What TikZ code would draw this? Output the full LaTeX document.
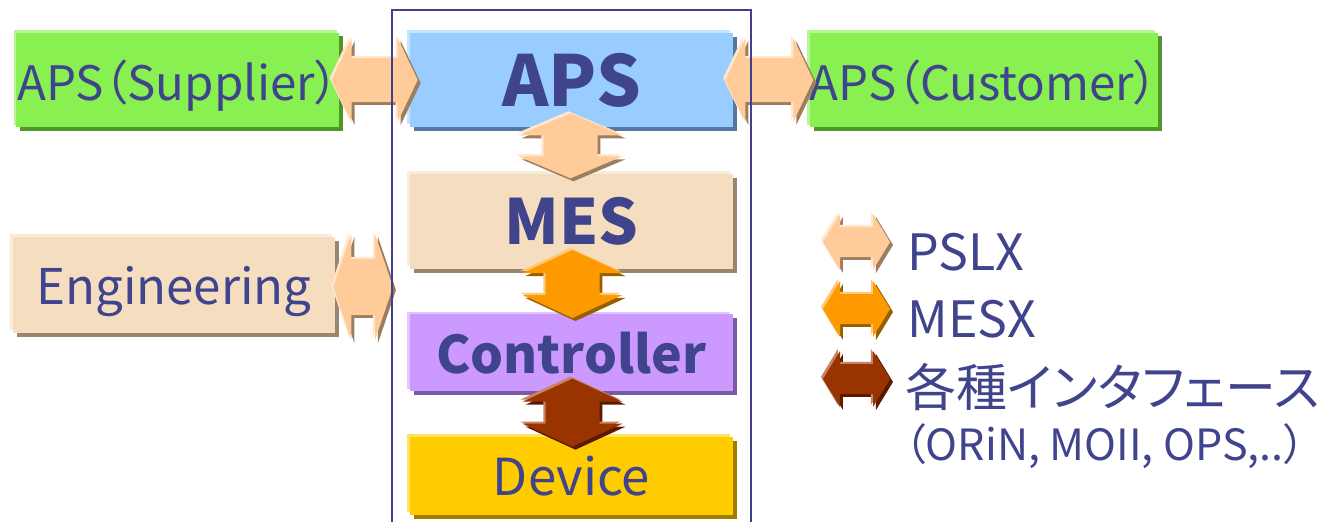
\documentclass[tikz,border=0pt]{standalone}
\usepackage{fontspec}
\setmainfont{Noto Sans CJK JP}[RawFeature=+palt]
\usetikzlibrary{calc, shadows, positioning}
\definecolor{my_text}{RGB}{64, 68, 140}
\definecolor{my_frame}{RGB}{64, 64, 140}
\definecolor{my_green}{RGB}{136, 240, 80}
\definecolor{my_greenhl}{RGB}{185, 245, 150}
\definecolor{my_greensh}{RGB}{80, 150, 40}
\definecolor{my_blue}{RGB}{153, 204, 255}
\definecolor{my_bluehl}{RGB}{195, 228, 255}
\definecolor{my_bluesh}{RGB}{85, 120, 160}
\definecolor{my_wheat}{RGB}{245, 222, 192}
\definecolor{my_wheathl}{RGB}{250, 236, 218}
\definecolor{my_wheatsh}{RGB}{150, 135, 110}
\definecolor{my_purple}{RGB}{204, 153, 255}
\definecolor{my_purplehl}{RGB}{226, 198, 255}
\definecolor{my_purplesh}{RGB}{120, 90, 165}
\definecolor{my_yellow}{RGB}{255, 204, 0}
\definecolor{my_yellowhl}{RGB}{255, 226, 100}
\definecolor{my_yellowsh}{RGB}{160, 125, 0}
\definecolor{my_pslx}{RGB}{255, 204, 153}
\definecolor{my_pslxhl}{RGB}{255, 230, 205}
\definecolor{my_pslxsh}{RGB}{155, 125, 95}
\definecolor{my_mesx}{RGB}{255, 153, 0}
\definecolor{my_mesxhl}{RGB}{255, 200, 120}
\definecolor{my_mesxsh}{RGB}{150, 95, 0}
\definecolor{my_ifc}{RGB}{153, 51, 0}
\definecolor{my_ifchl}{RGB}{200, 130, 100}
\definecolor{my_ifcsh}{RGB}{90, 25, 0}
\newdimen\pxu
\pxu=0.02cm
\tikzset {
  box/.style n args = {3}{rectangle, inner sep=0pt, text depth=0pt, fill=#1, text=my_text,
    general shadow={fill=#2, shadow xshift=2.2pt, shadow yshift=-2.2pt},
    general shadow={fill=#3, shadow xshift=-1.6pt, shadow yshift=1.6pt}},
  link/.style n args = {3}{fill=#1,
    general shadow={fill=#2, shadow xshift=1.7pt, shadow yshift=-1.7pt},
    general shadow={fill=#3, shadow xshift=-1.2pt, shadow yshift=1.2pt}},
  pslx/.style = {link={my_pslx}{my_pslxsh}{my_pslxhl}},
  mesx/.style = {link={my_mesx}{my_mesxsh}{my_mesxhl}},
  ifc/.style = {link={my_ifc}{my_ifcsh}{my_ifchl}},
  frame/.style = {draw=my_frame, line width=1.1pt},
  legend/.style = {anchor=base west, inner sep=0pt, text=my_text},
}
% \harrow{style}{from}{to}{head half width}{body half width}{head length}, sizes in px
\newcommand{\harrow}[6]{%
  \path[#1] let \p1=(#2), \p2=(#3) in
    (\x1,\y1) -- ({\x1+#6*\pxu},{\y1+#4*\pxu}) -- ({\x1+#6*\pxu},{\y1+#5*\pxu})
    -- ({\x2-#6*\pxu},{\y1+#5*\pxu}) -- ({\x2-#6*\pxu},{\y1+#4*\pxu}) -- (\x2,\y1)
    -- ({\x2-#6*\pxu},{\y1-#4*\pxu}) -- ({\x2-#6*\pxu},{\y1-#5*\pxu})
    -- ({\x1+#6*\pxu},{\y1-#5*\pxu}) -- ({\x1+#6*\pxu},{\y1-#4*\pxu}) -- cycle;}
% \varrow: same, top to bottom
\newcommand{\varrow}[6]{%
  \path[#1] let \p1=(#2), \p2=(#3) in
    (\x1,\y1) -- ({\x1+#4*\pxu},{\y1-#6*\pxu}) -- ({\x1+#5*\pxu},{\y1-#6*\pxu})
    -- ({\x1+#5*\pxu},{\y2+#6*\pxu}) -- ({\x1+#4*\pxu},{\y2+#6*\pxu}) -- (\x1,\y2)
    -- ({\x1-#4*\pxu},{\y2+#6*\pxu}) -- ({\x1-#5*\pxu},{\y2+#6*\pxu})
    -- ({\x1-#5*\pxu},{\y1-#6*\pxu}) -- ({\x1-#4*\pxu},{\y1-#6*\pxu}) -- cycle;}

\begin{document}
\begin{tikzpicture}[x=0.02cm, y=-0.02cm]
    \useasboundingbox (0,0) rectangle (1336,521);
    \clip (0,0) rectangle (1336,521);

    \node[box={my_blue}{my_bluesh}{my_bluehl}, minimum width=6.46cm, minimum height=1.88cm,
      font=\fontsize{40}{40}\selectfont\bfseries] (aps) at (571.5,80) {APS};
    \node[box={my_green}{my_greensh}{my_greenhl}, minimum width=6.46cm, minimum height=1.9cm,
      font=\fontsize{27}{28}\selectfont, left=1.4cm of aps] (sup) {APS（Supplier）};
    \node[box={my_green}{my_greensh}{my_greenhl}, minimum width=6.88cm, minimum height=1.9cm,
      font=\fontsize{27}{28}\selectfont, right=1.52cm of aps] (cus) {APS（Customer）};
    \node[box={my_wheat}{my_wheatsh}{my_wheathl}, minimum width=6.46cm, minimum height=1.9cm,
      font=\fontsize{35.5}{36}\selectfont\bfseries, below=0.92cm of aps] (mes) {MES};
    \node[box={my_purple}{my_purplesh}{my_purplehl}, minimum width=6.46cm, minimum height=1.54cm,
      font=\fontsize{29.5}{30}\selectfont\bfseries, below=0.9cm of mes] (ctl) {Controller};
    \node[box={my_yellow}{my_yellowsh}{my_yellowhl}, minimum width=6.46cm, minimum height=1.56cm,
      font=\fontsize{29}{30}\selectfont, below=0.9cm of ctl] (dev) {Device};
    \node[box={my_wheat}{my_wheatsh}{my_wheathl}, minimum width=6.44cm, minimum height=1.92cm,
      font=\fontsize{28}{28}\selectfont] (eng) at (174,285) {Engineering};
    \coordinate (sysw) at (393,287);

    % legend
    \node[legend, font=\fontsize{28.5}{30}\selectfont] (pslxlbl) at (907,270) {PSLX};
    \node[legend, font=\fontsize{28.5}{30}\selectfont] (mesxlbl) at (907,337) {MESX};
    \node[legend, font=\fontsize{29}{30}\selectfont] (ifclbl) at (905,406) {各種インタフェース};
    \node[legend, font=\fontsize{24.5}{25}\selectfont] (ifcnote) at (904,460) {（ORiN, MOII, OPS,..）};
    \coordinate (lg1a) at (823,242);
    \coordinate (lg1b) at (890,242);
    \coordinate (lg2a) at (823,309);
    \coordinate (lg2b) at (890,309);
    \coordinate (lg3a) at (823,379);
    \coordinate (lg3b) at (890,379);

    \harrow{pslx}{$(sup.east)+(-8,0)$}{$(aps.west)+(8,0)$}{42}{22}{20}
    \harrow{pslx}{$(aps.east)+(-8,0)$}{$(cus.west)+(4,0)$}{42}{22}{20}
    \harrow{pslx}{$(eng.east)+(-2,2)$}{sysw}{53}{28}{18}
    \varrow{pslx}{$(aps.south)+(-1,-14)$}{$(mes.north)+(0,5)$}{52}{27}{22}
    \varrow{mesx}{$(mes.south)+(1,-19)$}{$(ctl.north)+(0,4)$}{50}{27}{23}
    \varrow{ifc}{$(ctl.south)+(1,-13)$}{$(dev.north)+(0,10)$}{50}{27}{23}
    \harrow{pslx}{lg1a}{lg1b}{28}{15}{17}
    \harrow{mesx}{lg2a}{lg2b}{28}{15}{17}
    \harrow{ifc}{lg3a}{lg3b}{28}{15}{17}

    \draw[frame] (392,540) |- (751,10) -- (751,540);

\end{tikzpicture}
\end{document}
